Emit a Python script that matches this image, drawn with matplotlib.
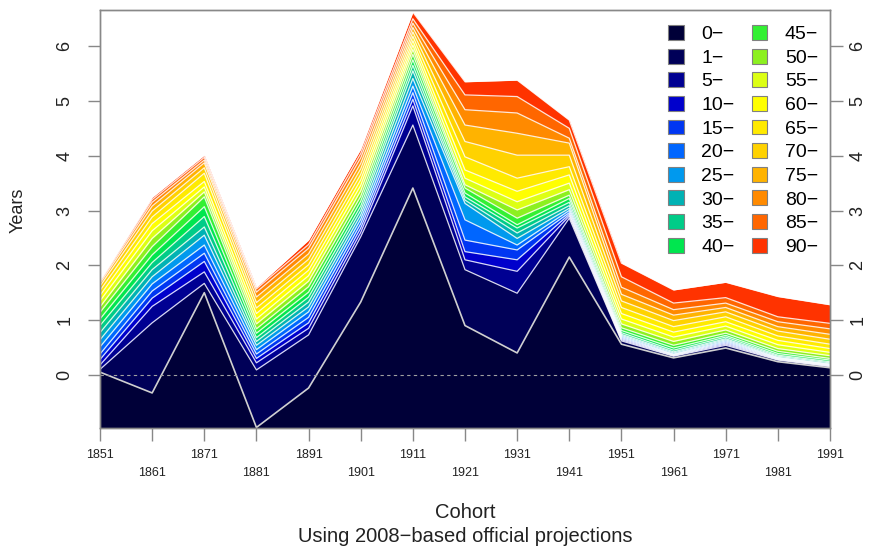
import numpy as np
import matplotlib
matplotlib.use('Agg')
import matplotlib.pyplot as plt
from matplotlib.patches import Patch

plt.rcParams['font.family'] = ['Liberation Sans', 'DejaVu Sans']

# cohorts on the x axis
cohorts = [1851, 1861, 1871, 1881, 1891, 1901, 1911, 1921, 1931, 1941,
           1951, 1961, 1971, 1981, 1991]

# age groups (bottom to top of the stack)
age_groups = ['0', '1', '5', '10', '15', '20', '25', '30', '35', '40',
              '45', '50', '55', '60', '65', '70', '75', '80', '85', '90']

colours = ['#000038', '#000058', '#000092', '#0000cc', '#0036f2', '#0066ff',
           '#0099ee', '#00b2b4', '#00cc88', '#00e64f', '#33f033', '#8cf020',
           '#ddff14', '#ffff00', '#ffea00', '#ffd200', '#ffb300', '#ff8a00',
           '#ff6600', '#ff3300']

# upper edge (cumulative, years) of each age band, one row per cohort
band_tops = [
    [0.05, 0.10, 0.18, 0.28, 0.38, 0.51, 0.64, 0.77, 0.90, 1.02, 1.14, 1.24, 1.35, 1.45, 1.54, 1.62, 1.67, 1.70, 1.72, 1.73],
    [-0.33, 0.95, 1.25, 1.40, 1.53, 1.66, 1.79, 1.92, 2.05, 2.19, 2.34, 2.49, 2.63, 2.76, 2.88, 2.99, 3.08, 3.15, 3.20, 3.24],
    [1.50, 1.67, 1.88, 2.07, 2.22, 2.37, 2.55, 2.70, 2.89, 3.07, 3.25, 3.34, 3.43, 3.53, 3.68, 3.78, 3.87, 3.92, 3.97, 4.01],
    [-0.96, 0.09, 0.22, 0.30, 0.38, 0.46, 0.54, 0.61, 0.68, 0.76, 0.84, 0.93, 1.02, 1.12, 1.22, 1.32, 1.42, 1.51, 1.57, 1.60],
    [-0.24, 0.73, 0.85, 0.95, 1.05, 1.15, 1.24, 1.33, 1.42, 1.51, 1.61, 1.71, 1.81, 1.91, 2.01, 2.11, 2.21, 2.31, 2.38, 2.46],
    [1.33, 2.52, 2.60, 2.68, 2.76, 2.84, 2.92, 3.00, 3.08, 3.17, 3.26, 3.36, 3.46, 3.56, 3.66, 3.76, 3.86, 3.96, 4.04, 4.12],
    [3.41, 4.56, 4.91, 5.03, 5.15, 5.27, 5.41, 5.55, 5.65, 5.75, 5.85, 5.94, 6.02, 6.10, 6.18, 6.26, 6.34, 6.42, 6.50, 6.62],
    [0.90, 1.92, 2.10, 2.25, 2.46, 2.83, 3.13, 3.19, 3.25, 3.32, 3.41, 3.47, 3.59, 3.74, 3.98, 4.26, 4.56, 4.84, 5.11, 5.35],
    [0.40, 1.49, 1.89, 2.10, 2.28, 2.37, 2.49, 2.59, 2.68, 2.74, 2.86, 3.01, 3.16, 3.35, 3.59, 4.01, 4.41, 4.78, 5.08, 5.38],
    [2.15, 2.86, 2.90, 2.93, 2.96, 3.00, 3.04, 3.09, 3.15, 3.22, 3.28, 3.38, 3.50, 3.65, 3.80, 4.01, 4.23, 4.32, 4.50, 4.65],
    [0.56, 0.62, 0.64, 0.66, 0.68, 0.70, 0.72, 0.74, 0.77, 0.81, 0.86, 0.93, 1.02, 1.12, 1.23, 1.35, 1.47, 1.60, 1.79, 2.04],
    [0.31, 0.34, 0.35, 0.36, 0.37, 0.38, 0.40, 0.42, 0.45, 0.49, 0.54, 0.61, 0.69, 0.78, 0.88, 0.99, 1.09, 1.19, 1.31, 1.55],
    [0.49, 0.54, 0.56, 0.58, 0.60, 0.62, 0.64, 0.66, 0.69, 0.72, 0.76, 0.82, 0.89, 0.97, 1.06, 1.15, 1.23, 1.31, 1.41, 1.69],
    [0.24, 0.27, 0.28, 0.29, 0.30, 0.31, 0.32, 0.34, 0.36, 0.39, 0.43, 0.48, 0.55, 0.63, 0.71, 0.80, 0.88, 0.97, 1.06, 1.43],
    [0.13, 0.15, 0.16, 0.17, 0.18, 0.19, 0.20, 0.22, 0.24, 0.27, 0.30, 0.35, 0.41, 0.48, 0.56, 0.65, 0.74, 0.84, 0.94, 1.28],
]

W, H = 870, 546
fig = plt.figure(figsize=(W / 100, H / 100), dpi=100)
ax = fig.add_axes([100 / W, 118 / H, 730 / W, 418 / H])

ymin, ymax = -0.97, 6.66
tops = np.array(band_tops).T

# paint from the top band down so each band covers the one under it
for k in range(len(age_groups) - 1, -1, -1):
    ax.fill_between(cohorts, ymin, tops[k], color=colours[k], lw=0, zorder=2)
for k in range(1, len(age_groups)):
    ax.plot(cohorts, tops[k], color='white', lw=0.9, alpha=0.85, zorder=3)
ax.plot(cohorts, tops[0], color='#d0d0d0', lw=1.2, zorder=3)
ax.axhline(0, color='#a0a0a0', lw=0.8, ls=(0, (3, 3)), zorder=4)

ax.set_xlim(cohorts[0], cohorts[-1])
ax.set_ylim(ymin, ymax)

# x ticks: labels alternate between two rows
ax.set_xticks(cohorts[::2], [str(c) for c in cohorts[::2]])
ax.set_xticks(cohorts[1::2], [str(c) for c in cohorts[1::2]], minor=True)
ax.tick_params(axis='x', which='both', length=9, width=1, color='#888888',
               labelsize=9, labelcolor='#222222')
ax.tick_params(axis='x', which='major', pad=6)
ax.tick_params(axis='x', which='minor', pad=19)

ax.set_yticks(range(7))
ax.tick_params(axis='y', left=True, right=False, labelleft=True,
               labelright=False, length=9, width=1, color='#888888',
               labelsize=13, labelcolor='#222222', labelrotation=90, pad=10)
for lab in ax.get_yticklabels():
    lab.set_va('center')

# right-hand axis repeats the scale, sitting closer to its ticks
ax_r = ax.twinx()
ax_r.set_ylim(ymin, ymax)
ax_r.set_yticks(range(7))
ax_r.tick_params(axis='y', length=9, width=1, color='#888888', labelsize=13,
                 labelcolor='#222222', labelrotation=90, pad=5)
for lab in ax_r.get_yticklabels():
    lab.set_va('center')

for a in (ax, ax_r):
    for s in a.spines.values():
        s.set_color('#888888')
        s.set_linewidth(1)
        s.set_zorder(5)

fig.text(18 / W, 1 - 210 / H, 'Years', rotation=90, fontsize=13,
         ha='center', va='center', color='#222222')
fig.text(465 / W, 1 - 512 / H, 'Cohort', fontsize=14.5, ha='center',
         va='center', color='#222222')
fig.text(465 / W, 1 - 537 / H, 'Using 2008\u2212based official projections',
         fontsize=14.5, ha='center', va='center', color='#222222')

handles = [Patch(facecolor=c, edgecolor='#808080', lw=0.8) for c in colours]
labels = [a + '\u2212' for a in age_groups]
ax_r.legend(handles, labels, ncol=2, loc='upper left',
            bbox_to_anchor=(668 / W, 1 - 25 / H), bbox_transform=fig.transFigure,
            frameon=False, fontsize=14, handlelength=0.8, handleheight=0.8,
            handletextpad=0.9, columnspacing=0.9, labelspacing=0.28,
            borderpad=0, borderaxespad=0)

fig.savefig('out.png', dpi=100)
